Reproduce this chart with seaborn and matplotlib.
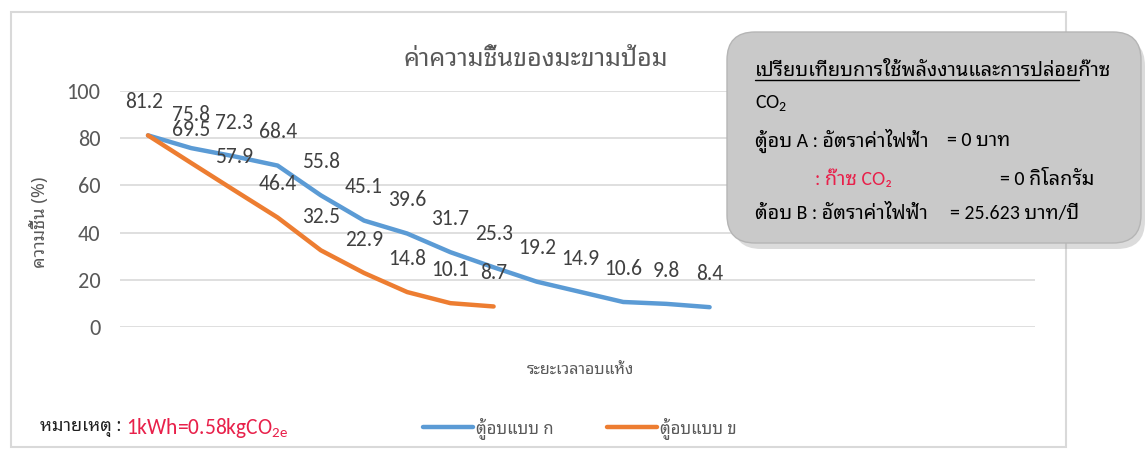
import matplotlib
matplotlib.use("Agg")
import matplotlib.pyplot as plt
import matplotlib.font_manager as fm
from matplotlib.patches import FancyBboxPatch, Rectangle
from matplotlib.lines import Line2D
import seaborn as sns
import pandas as pd

# ---------------- data ----------------
title = "ค่าความชื้นของมะขามป้อม"
y_label = "ความชื้น (%)"
x_label = "ระยะเวลาอบแห้ง"
series_a_name = "ตู้อบแบบ ก"
series_b_name = "ตู้อบแบบ ข"
moisture_a = [81.2, 75.8, 72.3, 68.4, 55.8, 45.1, 39.6, 31.7, 25.3, 19.2, 14.9, 10.6, 9.8, 8.4]
moisture_b = [81.2, 69.5, 57.9, 46.4, 32.5, 22.9, 14.8, 10.1, 8.7]
y_ticks = [0, 20, 40, 60, 80, 100]

box_title = "เปรียบเทียบการใช้พลังงานและการปล่อยก๊าซ"
box_title_underlined = "เปรียบเทียบการใช้พลังงานและการปล่อย"
note_label = "หมายเหตุ : "
note_value = "1kWh=0.58kgCO$_{2e}$"

# ---------------- style ----------------
sns.set_style("white")

def has(name):
    try:
        fm.findfont(fm.FontProperties(family=name), fallback_to_default=False)
        return True
    except Exception:
        return False

latin = "Carlito" if has("Carlito") else "Open Sans"
FAM = [latin, "Noto Sans Thai Looped", "DejaVu Sans"]
FAM_THAI = ["Noto Sans Thai Looped", "DejaVu Sans"]
plt.rcParams["font.family"] = FAM
plt.rcParams["mathtext.fontset"] = "custom"
plt.rcParams["mathtext.rm"] = latin
plt.rcParams["mathtext.it"] = latin

BLUE = "#5b9bd5"
ORANGE = "#ed7d31"
TXT = "#404040"
GRAY = "#595959"
RED = "#e8204a"

df = pd.concat([
    pd.DataFrame({"t": range(len(moisture_a)), "m": moisture_a, "s": series_a_name}),
    pd.DataFrame({"t": range(len(moisture_b)), "m": moisture_b, "s": series_b_name}),
])

W, H = 1145, 450
fig = plt.figure(figsize=(W / 100, H / 100), dpi=100)
fig.patch.set_facecolor("white")

# chart area in pixels: x 120..1035, y(0)=327, y(100)=91
ax = fig.add_axes([120 / W, 1 - 327 / H, (1035 - 120) / W, (327 - 91) / H])
sns.lineplot(data=df, x="t", y="m", hue="s", palette=[BLUE, ORANGE],
             linewidth=3.2, ax=ax, legend=False, sort=False,
             solid_capstyle="round", solid_joinstyle="round")
step = 43.2
ax.set_xlim(-28 / step, -28 / step + (1035 - 120) / step)
ax.set_ylim(0, 100)
ax.set_yticks(y_ticks)
ax.set_xticks([])
ax.tick_params(axis="y", length=0, pad=14, labelsize=16, labelcolor=GRAY)
ax.grid(axis="y", color="#d9d9d9", linewidth=1.2)
ax.grid(axis="x", visible=False)
for sp in ax.spines.values():
    sp.set_visible(False)
ax.set_xlabel("")
ax.set_ylabel("")
ax.set_facecolor("none")

drawn = set()
for vals in (moisture_a, moisture_b):
    for i, v in enumerate(vals):
        if (i, v) in drawn:
            continue
        drawn.add((i, v))
        ax.annotate(f"{v}", (i, v), xytext=(-3 if i == 0 else 0, 24), textcoords="offset points",
                    ha="center", va="center", fontsize=15.5, color=TXT)

# ---------------- overlay in pixel units ----------------
ov = fig.add_axes([0, 0, 1, 1], zorder=5)
ov.set_xlim(0, W)
ov.set_ylim(H, 0)
ov.axis("off")
ov.patch.set_alpha(0)

# outer frame
ov.add_patch(Rectangle((11, 12), 1055, 435, fill=False, edgecolor="#d9d9d9", linewidth=1.5))

# title & axis labels
ov.text(536, 60, title, ha="center", va="center", fontsize=18, fontweight="light",
        color=GRAY, family=FAM_THAI)
ov.text(40, 222, y_label, ha="center", va="center", rotation=90, fontsize=13,
        fontweight="light", color=GRAY, family=FAM_THAI)
ov.text(580, 371, x_label, ha="center", va="center", fontsize=11.5, fontweight="light",
        color=GRAY, family=FAM_THAI)

# legend
leg_handles = [Line2D([0], [0], color=BLUE, linewidth=3.2),
               Line2D([0], [0], color=ORANGE, linewidth=3.2)]
leg = fig.legend(leg_handles, [series_a_name, series_b_name], loc="center",
                 bbox_to_anchor=(580 / W, 1 - 428 / H), ncol=2, frameon=False,
                 handlelength=3.0, handletextpad=0.2, columnspacing=3.2,
                 prop=fm.FontProperties(family=FAM_THAI, size=12, weight="light"))
leg.set_zorder(6)
for t in leg.get_texts():
    t.set_color(GRAY)

# note
r = fig.canvas.get_renderer()
tn = ov.text(40, 428, note_label, ha="left", va="center", fontsize=13, color="#202020", family=FAM_THAI)
bb = tn.get_window_extent(r)
ov.text(40 + bb.width, 428, note_value, ha="left", va="center", fontsize=15.5, color=RED)

# comparison box with shadow
ov.add_patch(FancyBboxPatch((733, 38), 412, 211, boxstyle="round,pad=0,rounding_size=28",
                            facecolor="#9a9a9a", edgecolor="none", alpha=0.35, zorder=1))
ov.add_patch(FancyBboxPatch((727, 32), 414, 211, boxstyle="round,pad=0,rounding_size=28",
                            facecolor="#c9c9c9", edgecolor="#b5b5b5", linewidth=1.0, zorder=2))

BOX_FS = 14.3
tx = 755
ov.text(tx, 71, box_title, ha="left", va="center", fontsize=BOX_FS, color="black",
        family=FAM_THAI, zorder=3)
tu = ov.text(tx, 71, box_title_underlined, ha="left", va="center", fontsize=BOX_FS,
             color="none", family=FAM_THAI, zorder=3)
ub = tu.get_window_extent(r)
tu.remove()
ov.plot([tx, tx + ub.width], [80, 80], color="black", linewidth=1.0, zorder=3)
ov.text(tx, 103, "CO$_2$", ha="left", va="center", fontsize=BOX_FS, color="black", zorder=3)
ov.text(tx, 141, "ตู้อบ A : อัตราค่าไฟฟ้า", ha="left", va="center", fontsize=BOX_FS,
        color="black", family=FAM, zorder=3)
ov.text(947, 141, "= 0 บาท", ha="left", va="center", fontsize=BOX_FS, color="black",
        family=FAM, zorder=3)
ov.text(815, 179, ": ก๊าซ CO₂", ha="left", va="center", fontsize=BOX_FS, color=RED,
        family=FAM, zorder=3)
ov.text(1000, 179, "= 0 กิโลกรัม", ha="left", va="center", fontsize=BOX_FS, color="black",
        family=FAM, zorder=3)
ov.text(tx, 213, "ต้อบ B : อัตราค่าไฟฟ้า", ha="left", va="center", fontsize=BOX_FS,
        color="black", family=FAM, zorder=3)
ov.text(950, 213, "= 25.623 บาท/ปี", ha="left", va="center", fontsize=BOX_FS, color="black",
        family=FAM, zorder=3)

fig.savefig("out.png", dpi=100)
